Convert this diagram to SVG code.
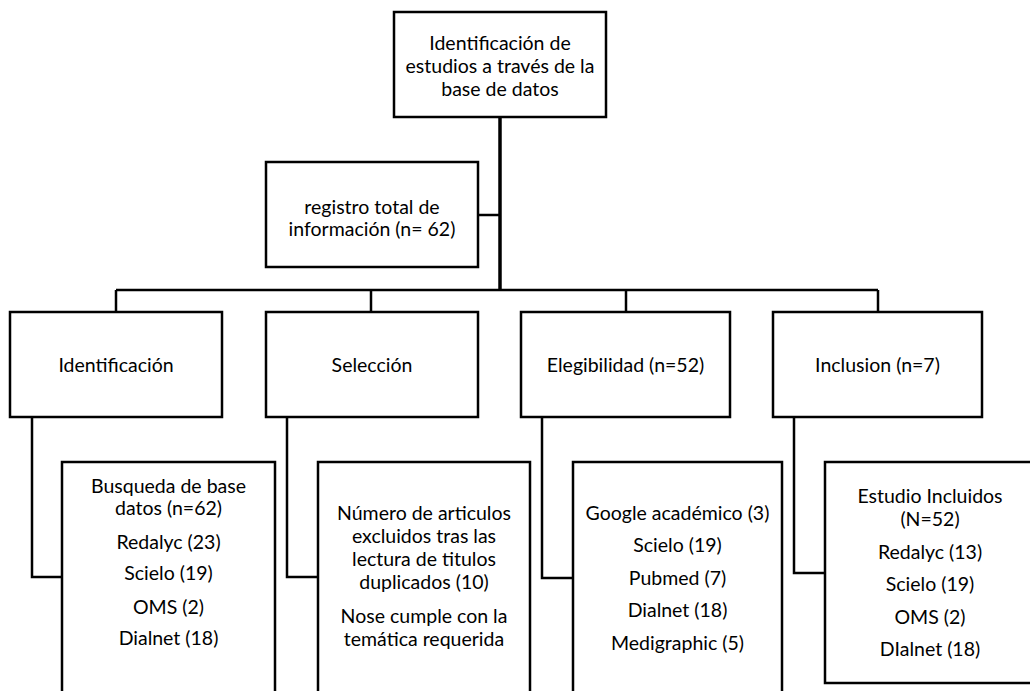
<svg xmlns="http://www.w3.org/2000/svg" width="1030" height="691" viewBox="0 0 1030 691">
<style>
.box{fill:#fff;stroke:#000;stroke-width:2.5}
.ln{fill:none;stroke:#000;stroke-width:2.5}
text{font-family:Lato,"Liberation Sans",sans-serif;font-size:19.5px;fill:#000;text-anchor:middle}
</style>
<rect width="1030" height="691" fill="#fff"/>
<g id="connectors">
<line class="ln" x1="500" y1="117" x2="500" y2="291" style="stroke-width:3.5"/>
<line class="ln" x1="478" y1="215" x2="500" y2="215"/>
<line class="ln" x1="116" y1="290" x2="878" y2="290"/>
<line class="ln" x1="116" y1="290" x2="116" y2="312"/>
<line class="ln" x1="371" y1="290" x2="371" y2="312"/>
<line class="ln" x1="626" y1="290" x2="626" y2="312"/>
<line class="ln" x1="878" y1="290" x2="878" y2="312"/>
<polyline class="ln" points="32,417 32,577 62,577"/>
<polyline class="ln" points="287,417 287,577 318,577"/>
<polyline class="ln" points="542,417 542,578 573,578"/>
<polyline class="ln" points="794,417 794,573 825,573"/>
</g>
<g id="n-top">
<rect class="box" x="394" y="12" width="212" height="105"/>
<text x="500" y="50">Identificación de</text>
<text x="500" y="73">estudios a través de la</text>
<text x="500" y="96">base de datos</text>
</g>
<g id="n-registro">
<rect class="box" x="266" y="162" width="212" height="105"/>
<text x="372" y="214">registro total de</text>
<text x="372" y="236">información (n= 62)</text>
</g>
<g id="n-identificacion">
<rect class="box" x="10" y="312" width="212" height="105"/>
<text x="116" y="372">Identificación</text>
</g>
<g id="n-seleccion">
<rect class="box" x="266" y="312" width="212" height="105"/>
<text x="372" y="372">Selección</text>
</g>
<g id="n-elegibilidad">
<rect class="box" x="521" y="312" width="209" height="105"/>
<text x="625.5" y="372">Elegibilidad (n=52)</text>
</g>
<g id="n-inclusion">
<rect class="box" x="773" y="312" width="209" height="105"/>
<text x="877.5" y="372">Inclusion (n=7)</text>
</g>
<g id="n-busqueda">
<rect class="box" x="62" y="462" width="213" height="240"/>
<text x="168.5" y="493">Busqueda de base</text>
<text x="168.5" y="515">datos (n=62)</text>
<text x="168.5" y="549">Redalyc (23)</text>
<text x="168.5" y="580">Scielo (19)</text>
<text x="168.5" y="614">OMS (2)</text>
<text x="168.5" y="645">Dialnet (18)</text>
</g>
<g id="n-excluidos">
<rect class="box" x="318" y="462" width="212" height="240"/>
<text x="424" y="520">Número de articulos</text>
<text x="424" y="543">excluidos tras las</text>
<text x="424" y="566">lectura de titulos</text>
<text x="424" y="589">duplicados (10)</text>
<text x="424" y="623">Nose cumple con la</text>
<text x="424" y="646">temática requerida</text>
</g>
<g id="n-eleg-list">
<rect class="box" x="573" y="462" width="209" height="240"/>
<text x="677.5" y="520">Google académico (3)</text>
<text x="677.5" y="552">Scielo (19)</text>
<text x="677.5" y="585">Pubmed (7)</text>
<text x="677.5" y="617">Dialnet (18)</text>
<text x="677.5" y="650">Medigraphic (5)</text>
</g>
<g id="n-incluidos">
<rect class="box" x="825" y="462" width="215" height="221"/>
<text x="930" y="503">Estudio Incluidos</text>
<text x="930" y="526">(N=52)</text>
<text x="930" y="559">Redalyc (13)</text>
<text x="930" y="591">Scielo (19)</text>
<text x="930" y="624">OMS (2)</text>
<text x="930" y="656">DIalnet (18)</text>
</g>
</svg>
